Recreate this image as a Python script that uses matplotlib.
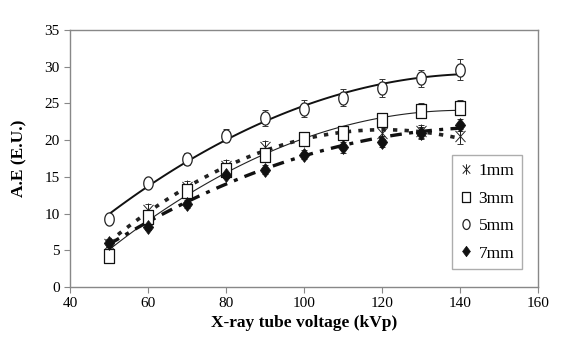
import numpy as np
import matplotlib.pyplot as plt
from matplotlib.path import Path

plt.rcParams['font.family'] = ['Liberation Serif', 'DejaVu Serif']

kvp = [50, 60, 70, 80, 90, 100, 110, 120, 130, 140]
ae_1mm = [5.8, 10.5, 13.6, 16.5, 19.0, 20.0, 20.8, 21.0, 21.2, 20.5]
ae_3mm = [4.2, 9.6, 13.1, 16.0, 18.0, 20.2, 21.0, 22.8, 24.0, 24.4]
ae_5mm = [9.2, 14.1, 17.4, 20.6, 23.0, 24.3, 25.8, 27.1, 28.4, 29.6]
ae_7mm = [6.0, 8.2, 11.3, 15.3, 16.0, 18.0, 19.0, 19.8, 21.0, 22.1]
err_1mm = [0.8, 0.8, 0.8, 0.8, 0.9, 0.8, 0.8, 0.9, 0.9, 1.0]
err_3mm = [0.7, 0.7, 0.7, 0.8, 0.8, 0.7, 0.8, 0.8, 1.0, 1.0]
err_5mm = [0.6, 0.6, 0.8, 0.9, 1.1, 1.2, 1.1, 1.2, 1.2, 1.4]
err_7mm = [0.5, 0.5, 0.5, 0.5, 0.6, 0.6, 0.7, 0.7, 0.8, 0.8]
labels = ['1mm', '3mm', '5mm', '7mm']

# tall markers, like in the original (squeezed horizontally)
sx = 0.72
t = np.linspace(0, 2 * np.pi, 41)
ellipse = Path(np.column_stack([sx * np.cos(t), np.sin(t)]), closed=True)
rect = Path([(-sx, -1), (sx, -1), (sx, 1), (-sx, 1), (-sx, -1)], closed=True)
diamond = Path([(0, -1), (0.75, 0), (0, 1), (-0.75, 0), (0, -1)], closed=True)
star = Path([(0, -1), (0, 1), (-sx, -0.8), (sx, 0.8), (-sx, 0.8), (sx, -0.8)],
            [Path.MOVETO, Path.LINETO, Path.MOVETO, Path.LINETO, Path.MOVETO, Path.LINETO])

fig = plt.figure(figsize=(5.77, 3.46), dpi=100)
ax = fig.add_axes([0.1213, 0.1705, 0.811, 0.7428])

x = np.array(kvp)
series = [
    (ae_1mm, err_1mm, dict(marker=star, ms=10, mfc='none', mec='#222222', mew=0.7),
     dict(ls=(0, (1.2, 2.0)), lw=2.6, color='#222222')),
    (ae_3mm, err_3mm, dict(marker=rect, ms=9.5, mfc='white', mec='#111111', mew=0.9),
     dict(ls='-', lw=0.8, color='#222222')),
    (ae_5mm, err_5mm, dict(marker=ellipse, ms=9.5, mfc='white', mec='#222222', mew=0.9),
     dict(ls='-', lw=1.4, color='#111111')),
    (ae_7mm, err_7mm, dict(marker=diamond, ms=10, mfc='#111111', mec='#111111', mew=0.5),
     dict(ls=(0, (3.5, 2.2, 1.2, 2.2)), lw=2.4, color='#111111')),
]

xs = np.linspace(50, 140, 60)
for (vals, err, mstyle, lstyle), lab in zip(series, labels):
    coef = np.polyfit(x, vals, 2)
    ax.plot(xs, np.polyval(coef, xs), zorder=2, **lstyle)
    ax.errorbar(x, vals, yerr=err, fmt='none', ecolor='#333333', elinewidth=0.7,
                capsize=2.5, capthick=0.7, zorder=3)
    ax.plot(x, vals, ls='none', label=lab, zorder=4, **mstyle)

ax.set_xlim(40, 160)
ax.set_ylim(0, 35)
ax.set_xticks(range(40, 161, 20))
ax.set_yticks(range(0, 36, 5))
ax.tick_params(axis='both', labelsize=11, color='#888888', length=4, direction='out')
for s in ax.spines.values():
    s.set_color('#888888')
    s.set_linewidth(1.0)

ax.set_xlabel('X-ray tube voltage (kVp)', fontsize=12.5, fontweight='bold', labelpad=3)
ax.set_ylabel('A.E (E.U.)', fontsize=12.5, fontweight='bold', labelpad=12)

leg = ax.legend(loc='lower right', bbox_to_anchor=(0.985, 0.035), fontsize=12.5,
                frameon=True, fancybox=False, edgecolor='#999999', handlelength=0.7,
                handletextpad=0.4, labelspacing=0.65, borderpad=0.45, markerscale=0.75)
leg.get_frame().set_linewidth(1.0)

fig.savefig('out.png', dpi=100)
